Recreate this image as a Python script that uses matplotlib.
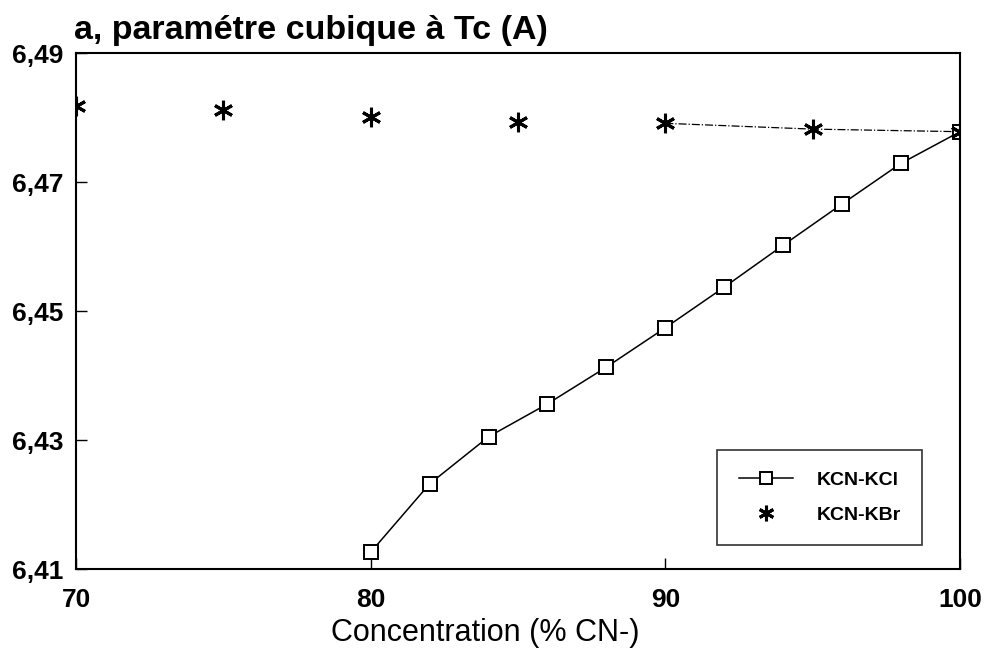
import matplotlib
matplotlib.use('Agg')
import matplotlib.pyplot as plt
from matplotlib.ticker import FixedLocator, FuncFormatter

plt.rcParams['font.family'] = ['Liberation Sans', 'DejaVu Sans']

# KCN-KCl solid solution
x_kcl = [80, 82, 84, 86, 88, 90, 92, 94, 96, 98, 100]
a_kcl = [6.4126, 6.4232, 6.4305, 6.4356, 6.4413, 6.4474,
         6.4537, 6.4602, 6.4666, 6.4729, 6.4778]

# KCN-KBr solid solution
x_kbr = [70, 75, 80, 85, 90, 95, 100]
a_kbr = [6.4818, 6.4812, 6.4801, 6.4793, 6.4791, 6.4782, 6.4778]

x_ticks = [70, 80, 90, 100]
y_ticks = [6.41, 6.43, 6.45, 6.47, 6.49]

fig = plt.figure(figsize=(9.86, 6.56), dpi=100)
ax = fig.add_axes([0.0771, 0.1326, 0.8965, 0.7866])

ax.plot(x_kcl, a_kcl, color='black', lw=1.1, marker='s', ms=10,
        mfc='white', mec='black', mew=1.4, label='KCN-KCl', zorder=3)

# only the high-concentration end is joined by a dash-dot line
ax.plot(x_kbr[4:], a_kbr[4:], color='black', lw=0.9, ls='-.', zorder=2)
ax.plot(x_kbr, a_kbr, ls='none', marker=(6, 2, 0), ms=14, mec='black',
        mew=2.2, label='KCN-KBr', zorder=4)

ax.set_xlim(70, 100)
ax.set_ylim(6.41, 6.49)
ax.xaxis.set_major_locator(FixedLocator(x_ticks))
ax.yaxis.set_major_locator(FixedLocator(y_ticks))
ax.yaxis.set_major_formatter(FuncFormatter(lambda v, p: f"{v:.2f}".replace('.', ',')))
ax.tick_params(direction='in', length=8, width=1, labelsize=19)
ax.tick_params(axis='x', pad=14)
ax.tick_params(axis='y', pad=9)
for lab in ax.get_xticklabels() + ax.get_yticklabels():
    lab.set_fontweight('bold')

for sp in ax.spines.values():
    sp.set_linewidth(1.5)

ax.set_xlabel('Concentration (% CN-)', fontsize=22, labelpad=4, x=0.463)
fig.text(0.075, 0.953, 'a, paramétre cubique à Tc (A)', fontsize=24.5,
         fontweight='bold', ha='left', va='center')

leg = ax.legend(loc='lower right', bbox_to_anchor=(0.957, 0.0465),
                frameon=True, fancybox=False, edgecolor='black',
                prop={'weight': 'bold', 'size': 14}, handlelength=2.8,
                markerscale=0.8, borderpad=1.1, labelspacing=0.9,
                handletextpad=1.2, borderaxespad=0)
leg.get_frame().set_linewidth(1.2)

fig.savefig('out.png', dpi=100)
